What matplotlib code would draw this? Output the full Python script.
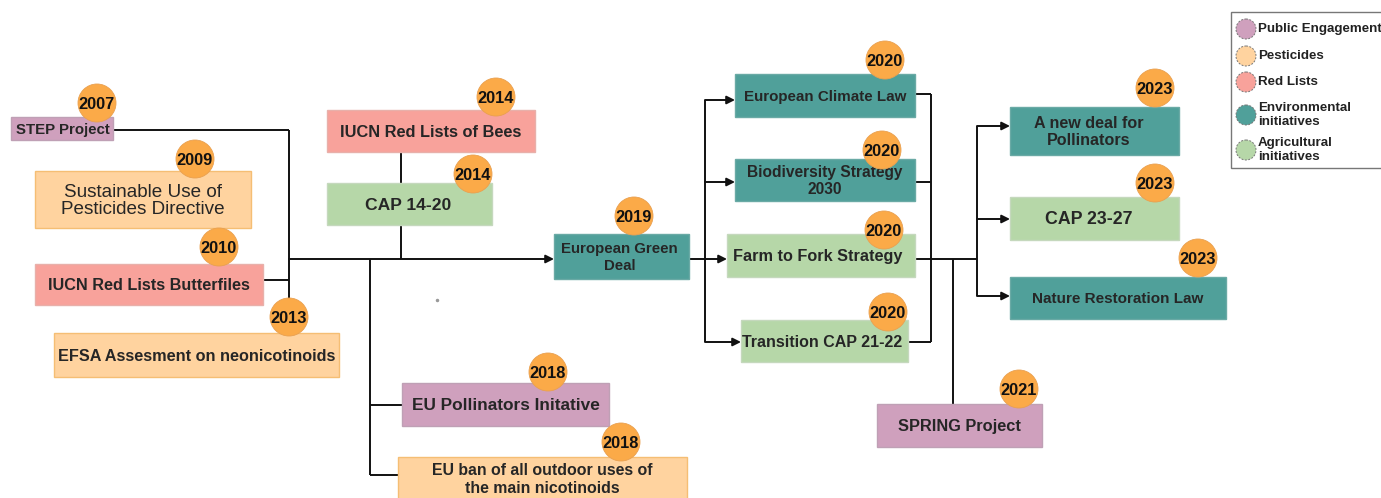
import matplotlib
matplotlib.use("Agg")
import matplotlib.pyplot as plt
from matplotlib.patches import Rectangle, Circle

plt.rcParams['font.family'] = ['Liberation Sans', 'DejaVu Sans']

# ---------------- data ----------------
labels = [
    "STEP Project",
    "Sustainable Use of\nPesticides Directive",
    "IUCN Red Lists Butterfiles",
    "EFSA Assesment on neonicotinoids",
    "IUCN Red Lists of Bees",
    "CAP 14-20",
    "EU Pollinators Initative",
    "EU ban of all outdoor uses of\nthe main nicotinoids",
    "European Green\nDeal",
    "European Climate Law",
    "Biodiversity Strategy\n2030",
    "Farm to Fork Strategy",
    "Transition CAP 21-22",
    "A new deal for\nPollinators",
    "CAP 23-27",
    "Nature Restoration Law",
    "SPRING Project",
]
years = ["2007", "2009", "2010", "2013", "2014", "2014", "2018", "2018",
         "2019", "2020", "2020", "2020", "2020", "2023", "2023", "2023", "2021"]
categories = ["Public Engagement", "Pesticides", "Red Lists", "Pesticides",
              "Red Lists", "Agricultural", "Public Engagement", "Pesticides",
              "Environmental", "Environmental", "Environmental", "Agricultural",
              "Agricultural", "Environmental", "Agricultural", "Environmental",
              "Public Engagement"]
legend_labels = ["Public Engagement", "Pesticides", "Red Lists",
                 "Environmental\ninitiatives", "Agricultural\ninitiatives"]
legend_keys = ["Public Engagement", "Pesticides", "Red Lists",
               "Environmental", "Agricultural"]

# ---------------- styles / layout ----------------
colors = {
    "Public Engagement": "#CFA0BD",
    "Pesticides": "#FFD39F",
    "Red Lists": "#F8A29B",
    "Environmental": "#50A09A",
    "Agricultural": "#B6D7A8",
}
edges = {
    "Public Engagement": "#BFA0B5",
    "Pesticides": "#F5BE74",
    "Red Lists": "#E8B0AA",
    "Environmental": "#6AAAA5",
    "Agricultural": "#C5D8BD",
}
# box rectangles (x0, y0, x1, y1) in pixel coords, and year-circle centres
boxes = [
    (11, 117, 113, 140),
    (35, 171, 251, 228),
    (35, 264, 263, 305),
    (54, 333, 339, 377),
    (327, 110, 535, 152),
    (327, 183, 492, 225),
    (402, 383, 609, 426),
    (398, 457, 687, 500),
    (554, 234, 689, 279),
    (735, 74, 915, 117),
    (735, 159, 915, 201),
    (727, 234, 915, 277),
    (741, 320, 908, 362),
    (1010, 107, 1179, 155),
    (1010, 197, 1179, 240),
    (1010, 277, 1226, 319),
    (877, 404, 1042, 447),
]
# text centre offsets (dx) from box centre
text_dx = [1, 0, 0, 0, 0, -1, 0, 0, -2, 0, 0, -3, -2, -6, -6, 0, 0]
circles = [
    (97, 103), (195, 159), (219, 247), (289, 317), (496, 97), (473, 174),
    (548, 372), (621, 442), (634, 216), (885, 60), (882, 150), (884, 230),
    (888, 312), (1155, 88), (1155, 183), (1198, 258), (1019, 389),
]
fontsizes = [10.8, 13.6, 11.7, 11.7, 11.8, 12.6, 12.4, 11.4, 10.8, 10.9,
             11.2, 11.7, 11.5, 11.6, 12.8, 11.0, 11.8]
R = 19

W, H = 1381, 498
fig = plt.figure(figsize=(W / 100, H / 100), dpi=100)
ax = fig.add_axes([0, 0, 1, 1])
ax.set_xlim(0, W)
ax.set_ylim(H, 0)
ax.axis('off')

LW = 1.4
LC = "#111111"


def line(xs, ys):
    ax.plot(xs, ys, color=LC, lw=LW, solid_capstyle='butt', zorder=1)


def arrow(x0, y, x1):
    ax.annotate("", xy=(x1, y), xytext=(x0, y),
                arrowprops=dict(arrowstyle='-|>', color=LC, lw=LW,
                                mutation_scale=12, shrinkA=0, shrinkB=0),
                zorder=1)


# connectors left part
line([113, 289], [130, 130])
line([289, 289], [130, 300])
line([263, 289], [280, 280])
arrow(289, 259, 554)
line([401, 401], [152, 183])
line([401, 401], [225, 259])
line([370, 370], [259, 475])
line([370, 402], [405, 405])
line([370, 398], [475, 475])

# middle part
arrow(689, 259, 727)
line([705, 705], [100, 342])
arrow(705, 100, 735)
arrow(705, 182, 735)
arrow(705, 342, 741)
line([915, 931], [94, 94])
line([931, 931], [94, 342])
line([915, 931], [182, 182])
line([908, 931], [342, 342])
line([915, 977], [259, 259])
line([953, 953], [259, 404])
line([977, 977], [126, 296])
arrow(977, 126, 1010)
arrow(977, 219, 1010)
arrow(977, 296, 1010)

# small stray dot present in the original
ax.plot([437], [300], marker='o', ms=1.5, color='#999999', zorder=1)

# boxes and year circles
for lab, yr, cat, (x0, y0, x1, y1), (cx, cy), fs, dx in zip(
        labels, years, categories, boxes, circles, fontsizes, text_dx):
    ax.add_patch(Rectangle((x0, y0), x1 - x0, y1 - y0, facecolor=colors[cat],
                           edgecolor=edges[cat], lw=1.0, zorder=2))
    weight = 'normal' if lab.startswith("Sustainable") else 'bold'
    ax.text((x0 + x1) / 2 + dx, (y0 + y1) / 2 + 1, lab, ha='center',
            va='center', fontsize=fs, fontweight=weight, color='#262626',
            linespacing=1.2 if '\n' in lab and weight == 'bold' else 1.0,
            zorder=3)
    ax.add_patch(Circle((cx, cy), R, facecolor="#FBAA48",
                        edgecolor="#E9A050", lw=0.6, zorder=4))
    ax.text(cx, cy + 1, yr, ha='center', va='center', fontsize=11.8,
            fontweight='bold', color='#111111', zorder=5)

# legend
ax.add_patch(Rectangle((1231, 12), 160, 156, facecolor='white',
                       edgecolor='#777777', lw=1.0, zorder=2))
leg_y = [29, 56, 82, 115, 150]
for key, lab, ly in zip(legend_keys, legend_labels, leg_y):
    ax.add_patch(Circle((1246, ly), 10, facecolor=colors[key],
                        edgecolor='#777777', lw=0.7, linestyle=(0, (2, 1.5)),
                        zorder=3))
    ax.text(1258, ly, lab, ha='left', va='center', fontsize=9.6,
            fontweight='bold', color='#222222', linespacing=1.15, zorder=3)

fig.savefig("out.png", dpi=100)
